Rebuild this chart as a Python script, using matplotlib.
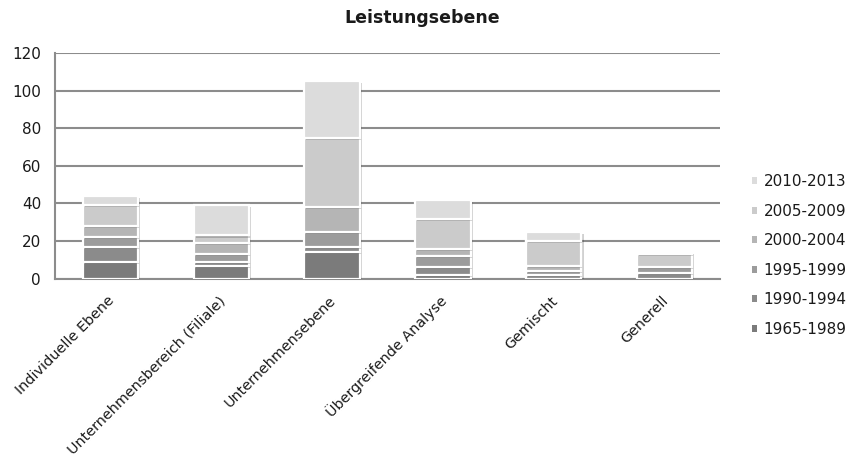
import matplotlib
matplotlib.use("Agg")
import matplotlib.pyplot as plt
import matplotlib.patheffects as pe
from matplotlib.patches import Patch
from matplotlib.transforms import ScaledTranslation
import numpy as np

# Werte (gestapelt je Ebene)
categories = ["Individuelle Ebene", "Unternehmensbereich (Filiale)", "Unternehmensebene",
              "Übergreifende Analyse", "Gemischt", "Generell"]
periods = ["1965-1989", "1990-1994", "1995-1999", "2000-2004", "2005-2009", "2010-2013"]
v_1965_1989 = [9, 7, 14, 2, 0, 0]
v_1990_1994 = [8, 2, 3, 4, 2, 3]
v_1995_1999 = [5, 4, 8, 6, 2, 3]
v_2000_2004 = [6, 6, 13, 4, 3, 0]
v_2005_2009 = [11, 4, 37, 16, 13, 7]
v_2010_2013 = [5, 16, 30, 10, 5, 1]
y_ticks = [0, 20, 40, 60, 80, 100, 120]

series = [v_1965_1989, v_1990_1994, v_1995_1999, v_2000_2004, v_2005_2009, v_2010_2013]
colors = ["#7b7b7b", "#8b8b8b", "#9c9c9c", "#b5b5b5", "#cbcbcb", "#dcdcdc"]

plt.rcParams['font.family'] = ['DejaVu Sans']

fig = plt.figure(figsize=(8.51, 4.63), dpi=100)
ax = fig.add_axes([55 / 851, 1 - 278.7 / 463, (720 - 55) / 851, (278.7 - 53) / 463])

x = np.arange(len(categories))
bottom = np.zeros(len(categories))
shadow = [pe.SimplePatchShadow(offset=(1.5, -1.5), shadow_rgbFace="#000000", alpha=0.18), pe.Normal()]
for vals, col in zip(series, colors):
    bars = ax.bar(x, vals, width=0.5, bottom=bottom, color=col, edgecolor="white",
                  linewidth=1.6, zorder=3)
    for b in bars:
        if b.get_height() > 0:
            b.set_path_effects(shadow)
        else:
            b.set_visible(False)
    bottom += np.array(vals)

ax.set_xlim(-0.5, len(categories) - 0.5)
ax.set_ylim(0, 120)
ax.set_yticks(y_ticks)
ax.yaxis.grid(True, color="#8c8c8c", linewidth=1.5, zorder=0)
ax.set_axisbelow(True)
for s in ["top", "right"]:
    ax.spines[s].set_visible(False)
ax.spines["left"].set_color("#8c8c8c")
ax.spines["left"].set_linewidth(1.5)
ax.spines["bottom"].set_color("#8c8c8c")
ax.spines["bottom"].set_linewidth(1.5)
ax.tick_params(axis="y", length=0, pad=10, labelsize=11, labelcolor="#1a1a1a")
ax.set_xticks(x)
ax.set_xticklabels([])
ax.tick_params(axis="x", length=0)

# Rotierte Kategorienbeschriftung
offset = ScaledTranslation(0.02, -0.20, fig.dpi_scale_trans)
for i, name in enumerate(categories):
    ax.text(i, 0, name, transform=ax.get_xaxis_transform() + offset, rotation=45,
            rotation_mode="anchor", ha="right", va="center", fontsize=10.4, color="#1a1a1a")

fig.text(0.496, 1 - 18 / 463, "Leistungsebene", ha="center", va="center",
         fontsize=12.5, fontweight="bold", color="#1a1a1a")

handles = [Patch(facecolor=c, edgecolor="none") for c in colors][::-1]
fig.legend(handles, periods[::-1], loc="center left", bbox_to_anchor=(752 / 851, 1 - 255.4 / 463),
           frameon=False, fontsize=11, handlelength=0.35, handleheight=0.35,
           handletextpad=0.4, labelspacing=0.95, borderpad=0, borderaxespad=0,
           labelcolor="#1a1a1a")

plt.savefig("out.png", dpi=100)
plt.close()
